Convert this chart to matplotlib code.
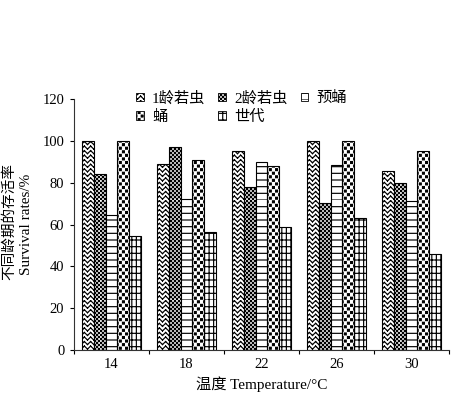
import numpy as np
import matplotlib
matplotlib.use('Agg')
import matplotlib.pyplot as plt
import matplotlib.hatch as mhatch
from matplotlib.path import Path
from matplotlib.patches import Patch

# ---------------- data ----------------
temps = ['14', '18', '22', '26', '30']
series_names = ['1龄若虫', '2龄若虫', '预蛹', '蛹', '世代']
nymph1 = [100, 89, 95, 100, 85.5]
nymph2 = [84, 97, 78, 70.5, 80]
prepupa = [64.5, 72, 90, 88.5, 71]
pupa = [100, 91, 88, 100, 95]
generation = [54.5, 56.5, 59, 63, 46]
yticks = [0, 20, 40, 60, 80, 100, 120]

# ---------------- custom hatch patterns ----------------
MOVE, LINE, CLOSE = Path.MOVETO, Path.LINETO, Path.CLOSEPOLY


def _seg_path(segs):
    v = np.array(segs, float).reshape(-1, 2)
    c = np.tile([MOVE, LINE], len(segs)).astype(Path.code_type)
    return v, c


def _square_path(centers, s):
    h = s / 2.0
    verts, codes = [], []
    for (cx, cy) in centers:
        verts += [(cx - h, cy - h), (cx + h, cy - h), (cx + h, cy + h),
                  (cx - h, cy + h), (cx - h, cy - h)]
        codes += [MOVE, LINE, LINE, LINE, CLOSE]
    return np.array(verts, float), np.array(codes, Path.code_type)


class _CustomHatch(mhatch.HatchPatternBase):
    char = None

    def __init__(self, hatch, density):
        if hatch.count(self.char) > 0:
            self.v, self.c = self.build()
            self.num_vertices = len(self.v)
        else:
            self.num_vertices = 0

    def set_vertices_and_codes(self, vertices, codes):
        vertices[:] = self.v
        codes[:] = self.c


class ZigZag(_CustomHatch):
    char = '/'

    def build(self):
        rows, per, amp = 22, 16, 0.03
        segs = []
        for j in range(rows):
            y0 = (j + 0.2) / rows
            for k in range(per):
                xa, xb, xc = k / per, (k + 0.5) / per, (k + 1) / per
                segs.append(((xa, y0), (xb, y0 + amp)))
                segs.append(((xb, y0 + amp), (xc, y0)))
        return _seg_path(segs)


class Checker(_CustomHatch):
    char = 'x'

    def build(self):
        n = 50
        cs = [((i + 0.5) / n, (j + 0.5) / n)
              for i in range(n) for j in range(n) if (i + j) % 2 == 0]
        return _square_path(cs, 0.011)


class Horiz(_CustomHatch):
    char = '-'

    def build(self):
        n = 15
        segs = [((0, j / n), (1, j / n)) for j in range(n)]
        return _seg_path(segs)


class Dots(_CustomHatch):
    char = '.'

    def build(self):
        nc, nr = 16, 28
        cs = [((i + 0.25 + 0.5 * (j % 2)) / nc, (j + 0.5) / nr)
              for i in range(nc) for j in range(nr)]
        return _square_path(cs, 0.019)


class Grid(_CustomHatch):
    char = '+'

    def build(self):
        nh, nv = 15, 22
        segs = [((0, j / nh), (1, j / nh)) for j in range(nh)]
        segs += [((i / nv, 0), (i / nv, 1)) for i in range(nv)]
        return _seg_path(segs)


mhatch._hatch_types[:] = [ZigZag, Checker, Horiz, Dots, Grid]
hatches = ['/', 'x', '-', '.', '+']

# ---------------- figure ----------------
plt.rcParams['font.family'] = ['Liberation Serif', 'Noto Sans CJK SC']
plt.rcParams['hatch.linewidth'] = 0.85
plt.rcParams['axes.unicode_minus'] = False

fig = plt.figure(figsize=(4.65, 3.94), dpi=100)
ax = fig.add_axes([74 / 465, 1 - 350 / 394, (449 - 74) / 465, (350 - 99) / 394])

series = [nymph1, nymph2, prepupa, pupa, generation]
x = np.arange(len(temps))
gw = 0.78
bw = gw / len(series)
for k, (vals, h) in enumerate(zip(series, hatches)):
    ax.bar(x - gw / 2 + (k + 0.5) * bw, vals, bw, color='white',
           edgecolor='black', hatch=h, linewidth=0.8)

ax.set_xlim(-0.5, len(temps) - 0.5)
ax.set_ylim(0, 120)
ax.set_yticks(yticks)
ax.set_xticks(x)
ax.set_xticklabels(temps)
ax.set_xticks(np.arange(len(temps) + 1) - 0.5, minor=True)
ax.tick_params(axis='x', which='major', length=0, labelsize=10.5, pad=6)
ax.tick_params(axis='x', which='minor', length=3, width=0.8, direction='out')
ax.tick_params(axis='y', length=3, width=0.8, direction='out', labelsize=10.5, pad=4)
for s in ['top', 'right']:
    ax.spines[s].set_visible(False)
for s in ['left', 'bottom']:
    ax.spines[s].set_linewidth(0.8)
    ax.spines[s].set_color('#333333')

handles = [Patch(facecolor='white', edgecolor='black', hatch=h, linewidth=0.6)
           for h in hatches]
order = [0, 3, 1, 4, 2]
leg = ax.legend([handles[i] for i in order], [series_names[i] for i in order],
                ncol=3, loc='upper left', bbox_to_anchor=(136 / 465, 1 - 91 / 394),
                bbox_transform=fig.transFigure, frameon=False, fontsize=11,
                handlelength=0.5, handleheight=0.5, handletextpad=0.55,
                columnspacing=0.85, labelspacing=0.3, borderpad=0, borderaxespad=0)

fig.text(262 / 465, 1 - 384 / 394, '温度 Temperature/°C', ha='center', va='center', fontsize=11)
fig.text(9 / 465, 1 - 222 / 394, '不同龄期的存活率', rotation=90, ha='center', va='center', fontsize=10.5)
fig.text(26 / 465, 1 - 224 / 394, 'Survival rates/%', rotation=90, ha='center', va='center', fontsize=11)

fig.savefig('out.png', dpi=100)
